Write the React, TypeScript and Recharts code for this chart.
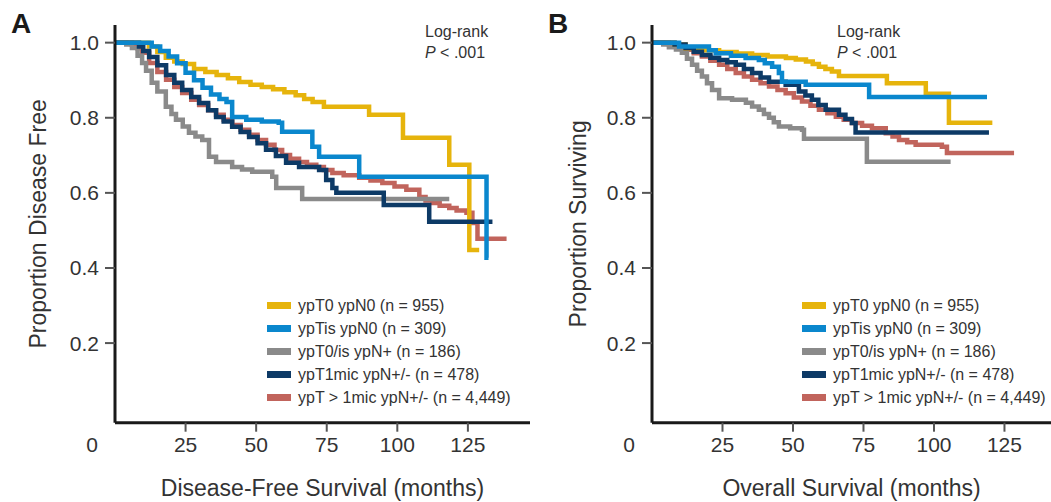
import { Line, LineChart, XAxis, YAxis } from "recharts";

const FONT = '"Liberation Sans", Arial, sans-serif';
const INK = "#333333";

const groupLabels = [
  "ypT0 ypN0 (n = 955)",
  "ypTis ypN0 (n = 309)",
  "ypT0/is ypN+ (n = 186)",
  "ypT1mic ypN+/- (n = 478)",
  "ypT > 1mic ypN+/- (n = 4,449)",
];
const groupColors = ["#e6b40c", "#0a87cd", "#8a8a8a", "#0d3a66", "#c1645c"];
// drawing order (index into groups): red, gray, yellow, navy, blue
const drawOrder = [4, 2, 0, 3, 1];

const monthTicks = [0, 25, 50, 75, 100, 125];
const proportionTicks = [0.2, 0.4, 0.6, 0.8, 1.0];

// Disease-free survival [months, proportion]
const dfsT0N0 = [
  [0, 1], [8, 1], [12, 0.99], [15, 0.975], [18, 0.96], [21, 0.95], [24, 0.943], [28, 0.93],
  [32, 0.922], [36, 0.914], [40, 0.905], [44, 0.895], [48, 0.888], [52, 0.882], [56, 0.876],
  [60, 0.868], [64, 0.86], [67, 0.85], [70, 0.842], [74, 0.829], [90, 0.808], [102, 0.747],
  [118.4, 0.675], [125.5, 0.448], [129, 0.448],
];
const dfsTisN0 = [
  [0, 1], [10, 1], [13, 0.99], [16, 0.978], [19, 0.963], [22, 0.945], [25, 0.92], [28, 0.9],
  [31, 0.88], [34, 0.862], [37, 0.85], [39.5, 0.842], [41.5, 0.802], [46.5, 0.795], [52, 0.79],
  [58, 0.787], [59.2, 0.763], [69.9, 0.723], [72.3, 0.696], [86.5, 0.643], [131.6, 0.427],
  [132.3, 0.427],
];
const dfsT0isNpos = [
  [0, 1], [4, 0.995], [6, 0.986], [8, 0.965], [9.6, 0.946], [11, 0.925], [13, 0.893], [15, 0.87],
  [18, 0.829], [20, 0.81], [21.6, 0.795], [24, 0.777], [26.2, 0.76], [28.5, 0.75], [30.9, 0.741],
  [33.3, 0.696], [35.8, 0.682], [41.5, 0.669], [45, 0.662], [48.6, 0.656], [55.7, 0.643],
  [57.1, 0.613], [66.3, 0.584], [118.4, 0.584],
];
const dfsT1mic = [
  [0, 1], [6, 1], [8.5, 0.99], [10, 0.978], [12.1, 0.962], [15, 0.94], [18.1, 0.914], [21, 0.893],
  [23.8, 0.874], [27, 0.855], [29.8, 0.839], [33, 0.82], [35.8, 0.802], [38.5, 0.79], [41.5, 0.776],
  [44.5, 0.762], [47.5, 0.749], [50.5, 0.732], [53.5, 0.715], [57, 0.698], [60.6, 0.68],
  [65.2, 0.669], [72.3, 0.661], [74.8, 0.634], [77, 0.613], [78.4, 0.6], [95.2, 0.568],
  [111.3, 0.523], [133.7, 0.523],
];
const dfsTgt1mic = [
  [0, 1], [6, 0.995], [8, 0.985], [9.6, 0.973], [12.1, 0.946], [15, 0.922], [18.1, 0.901], [21, 0.882],
  [23.8, 0.866], [27, 0.848], [29.8, 0.834], [33, 0.82], [35.8, 0.808], [38.5, 0.795], [41.5, 0.781],
  [44.5, 0.768], [47.5, 0.755], [50.5, 0.741], [53.5, 0.728], [56.5, 0.714], [59.2, 0.701],
  [62, 0.691], [65.2, 0.682], [68, 0.675], [71.3, 0.669], [74, 0.661], [77, 0.653], [81, 0.647],
  [86.5, 0.64], [90.5, 0.633], [94.7, 0.626], [99, 0.617], [103.2, 0.608], [107.8, 0.589],
  [110, 0.58], [112.4, 0.573], [115, 0.566], [118.4, 0.56], [121, 0.553], [124.5, 0.547],
  [126.6, 0.52], [128.4, 0.478], [138.7, 0.478],
];

// Overall survival [months, proportion]
const osT0N0 = [
  [0, 1], [8, 0.995], [11.9, 0.985], [17, 0.98], [23.8, 0.975], [30, 0.971], [35.5, 0.967],
  [41, 0.963], [47.5, 0.959], [51, 0.955], [54.6, 0.95], [57, 0.943], [59.2, 0.936], [61.5, 0.93],
  [63.8, 0.923], [66.3, 0.911], [83.3, 0.892], [97.1, 0.864], [105.3, 0.787], [120.7, 0.787],
];
const osTisN0 = [
  [0, 1], [9.6, 0.99], [20.2, 0.98], [22.6, 0.972], [28, 0.965], [33.2, 0.959], [37.9, 0.954],
  [40, 0.945], [42.6, 0.936], [45, 0.919], [46.1, 0.896], [54.5, 0.888], [77, 0.855], [118.8, 0.855],
];
const osT0isNpos = [
  [0, 1], [4, 0.995], [6, 0.988], [8.5, 0.982], [10.6, 0.973], [12.4, 0.957], [14.2, 0.941],
  [16, 0.925], [17.7, 0.91], [19.5, 0.892], [21.3, 0.874], [23.8, 0.852], [28.4, 0.848],
  [33.3, 0.84], [35.5, 0.83], [37.9, 0.821], [39.7, 0.81], [41.5, 0.8], [43.2, 0.788], [45, 0.777],
  [49, 0.772], [53.2, 0.768], [53.9, 0.744], [76.2, 0.683], [105.9, 0.683],
];
const osT1mic = [
  [0, 1], [8, 0.995], [11.9, 0.986], [14.8, 0.976], [17.7, 0.967], [20.7, 0.96], [23.8, 0.954],
  [26.7, 0.948], [29.7, 0.941], [32.6, 0.93], [35.5, 0.919], [38.5, 0.907], [41.5, 0.896],
  [47.4, 0.888], [52.1, 0.87], [54.4, 0.859], [56.7, 0.848], [59, 0.834], [61.6, 0.821],
  [66.3, 0.808], [68.6, 0.797], [70.9, 0.786], [72.2, 0.761], [119.5, 0.761],
];
const osTgt1mic = [
  [0, 1], [6, 0.995], [9, 0.988], [11.9, 0.981], [14.8, 0.972], [17.7, 0.963], [20.7, 0.952],
  [23.8, 0.941], [26.7, 0.93], [29.7, 0.919], [32.6, 0.91], [35.5, 0.901], [38.5, 0.892],
  [41.5, 0.883], [44.5, 0.874], [47.4, 0.865], [50.3, 0.854], [53.2, 0.843], [56.2, 0.832],
  [59.2, 0.821], [62.2, 0.812], [65.2, 0.803], [68, 0.795], [70.9, 0.786], [74.5, 0.779],
  [78, 0.772], [82.9, 0.759], [85.3, 0.75], [87.6, 0.741], [90.5, 0.735], [93.5, 0.728],
  [102.8, 0.723], [104.6, 0.706], [128.4, 0.706],
];

const dfsCurves = [dfsT0N0, dfsTisN0, dfsT0isNpos, dfsT1mic, dfsTgt1mic];
const osCurves = [osT0N0, osTisN0, osT0isNpos, osT1mic, osTgt1mic];

const toPoints = (rows: number[][]) => rows.map(([t, s]) => ({ t, s }));

function MonthTick(props: any) {
  const { x, y, payload } = props;
  const style = { fontFamily: FONT, fontSize: 21, fill: INK };
  if (payload.value === 0) {
    return (
      <text x={x - 23} y={y} dy="0.71em" textAnchor="middle" {...style}>
        0
      </text>
    );
  }
  return (
    <g>
      <line x1={x} x2={x} y1={y - 14} y2={y - 5} stroke="#555" strokeWidth={2} />
      <text x={x} y={y} dy="0.71em" textAnchor="middle" {...style}>
        {payload.value}
      </text>
    </g>
  );
}

function Panel({
  left,
  width,
  letter,
  curves,
  xTitle,
  yTitle,
  xMax,
  yAxisWidth,
  marginRight,
  legendLeft,
  logRankLeft,
  letterLeft,
}: {
  left: number;
  width: number;
  letter: string;
  curves: number[][][];
  xTitle: string;
  yTitle: string;
  xMax: number;
  yAxisWidth: number;
  marginRight: number;
  legendLeft: number;
  logRankLeft: number;
  letterLeft: number;
}) {
  return (
    <div style={{ position: "absolute", left, top: 0, width, height: 502 }}>
      <LineChart width={width} height={502} margin={{ top: 25, right: marginRight, bottom: 0, left: 0 }}>
        <XAxis
          type="number"
          dataKey="t"
          domain={[0, xMax]}
          ticks={monthTicks}
          interval={0}
          height={79.3}
          tickSize={9}
          tickMargin={5}
          tickLine={false}
          tick={<MonthTick />}
          axisLine={{ stroke: "#1a1a1a", strokeWidth: 3 }}
          label={{
            value: xTitle,
            position: "insideBottom",
            offset: 6,
            fill: INK,
            fontSize: 23,
            fontFamily: FONT,
          }}
        />
        <YAxis
          type="number"
          domain={[-0.012, 1.047]}
          ticks={proportionTicks}
          interval={0}
          width={yAxisWidth}
          tickSize={10}
          tickMargin={6}
          tickFormatter={(v: number) => v.toFixed(1)}
          tick={{ fill: INK, fontSize: 21, fontFamily: FONT }}
          tickLine={{ stroke: "#555", strokeWidth: 2 }}
          axisLine={{ stroke: "#1a1a1a", strokeWidth: 3 }}
          label={{
            value: yTitle,
            angle: -90,
            position: "insideLeft",
            offset: 38,
            fill: INK,
            fontSize: 23,
            fontFamily: FONT,
            style: { textAnchor: "middle" },
          }}
        />
        {drawOrder.map((i) => (
          <Line
            key={groupLabels[i]}
            data={toPoints(curves[i])}
            dataKey="s"
            name={groupLabels[i]}
            type="stepAfter"
            stroke={groupColors[i]}
            strokeWidth={4.5}
            dot={false}
            activeDot={false}
            isAnimationActive={false}
          />
        ))}
      </LineChart>
      <div
        style={{
          position: "absolute",
          left: letterLeft,
          top: 9.5,
          fontFamily: FONT,
          fontWeight: "bold",
          fontSize: 28,
          lineHeight: 1,
          color: "#1a1a1a",
        }}
      >
        {letter}
      </div>
      <div
        style={{
          position: "absolute",
          left: logRankLeft,
          top: 21.3,
          fontFamily: FONT,
          fontSize: 16,
          lineHeight: "21px",
          color: INK,
          whiteSpace: "nowrap",
        }}
      >
        <div>Log-rank</div>
        <div>
          <i>P</i> &lt; .001
        </div>
      </div>
      <div
        style={{
          position: "absolute",
          left: legendLeft,
          top: 294,
          fontFamily: FONT,
          fontSize: 16,
          lineHeight: "23px",
          color: INK,
          whiteSpace: "nowrap",
        }}
      >
        {groupLabels.map((label, i) => (
          <div key={label} style={{ display: "flex", alignItems: "center", height: 23 }}>
            <span
              style={{
                display: "inline-block",
                width: 24,
                height: 7,
                background: groupColors[i],
                marginRight: 7,
              }}
            />
            <span>{label}</span>
          </div>
        ))}
      </div>
    </div>
  );
}

export default function App() {
  return (
    <div
      style={{
        position: "absolute",
        left: 0,
        top: 0,
        width: 1051,
        height: 502,
        background: "#ffffff",
        overflow: "hidden",
      }}
    >
      <Panel
        left={0}
        width={540}
        letter="A"
        curves={dfsCurves}
        xTitle="Disease-Free Survival (months)"
        yTitle="Proportion Disease Free"
        xMax={147}
        yAxisWidth={115}
        marginRight={10}
        legendLeft={267}
        logRankLeft={425}
        letterLeft={11}
      />
      <Panel
        left={540}
        width={511}
        letter="B"
        curves={osCurves}
        xTitle="Overall Survival (months)"
        yTitle="Proportion Surviving"
        xMax={141.5}
        yAxisWidth={112}
        marginRight={0}
        legendLeft={262}
        logRankLeft={297}
        letterLeft={8}
      />
    </div>
  );
}
